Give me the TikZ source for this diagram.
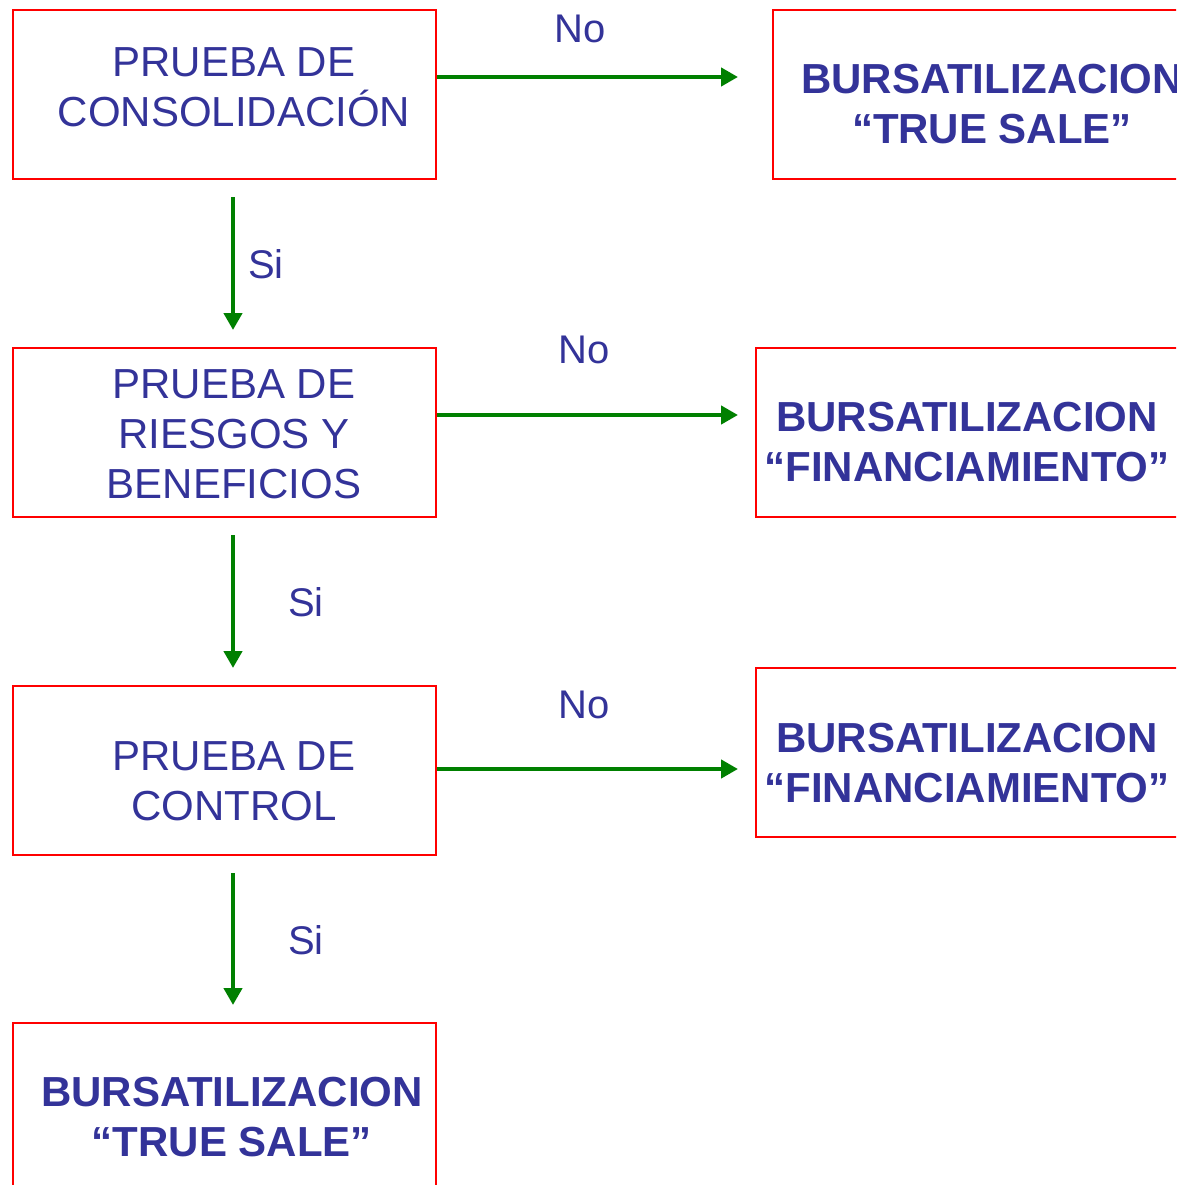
\documentclass[tikz,border=0pt]{standalone}
\usepackage{fontspec}
\setmainfont{Liberation Sans}
\usetikzlibrary{arrows.meta}
\definecolor{txtblue}{HTML}{333399}
\definecolor{boxred}{HTML}{FF0000}
\definecolor{arrgreen}{HTML}{008000}
\tikzset{
  box/.style={draw=boxred, line width=2pt, minimum width=#1, minimum height=169pt, inner sep=0pt, anchor=north west},
  box/.default=423pt,
  txt/.style={text=txtblue, align=center, inner sep=0pt, font=\fontsize{42}{50}\selectfont},
  btxt/.style={txt, font=\fontsize{42}{50}\selectfont\bfseries},
  lbl/.style={text=txtblue, inner sep=0pt, font=\fontsize{40}{48}\selectfont},
  arr/.style={draw=arrgreen, line width=4.5pt, -{Triangle[length=17pt,width=18pt]}}
}
\begin{document}
\begin{tikzpicture}[x=1pt,y=-1pt]
\clip (0,0) rectangle (1176,1185);
\fill[white] (0,0) rectangle (1176,1185);
% left column boxes
\node[box] (b1) at (12,9) {};
\node[box] (b2) at (12,347) {};
\node[box] (b3) at (12,685) {};
\node[box] (b4) at (12,1022) {};
% right column boxes
\node[box=440pt] (r1) at (772,9) {};
\node[box=440pt] (r2) at (755,347) {};
\node[box=440pt] (r3) at (755,667) {};
% texts
\node[txt] (t1) at (234,87) {PRUEBA DE\\CONSOLIDACIÓN};
\node[txt] (t2) at (234,434) {PRUEBA DE\\RIESGOS Y\\BENEFICIOS};
\node[txt] (t3) at (234,781) {PRUEBA DE\\CONTROL};
\node[btxt] (t4) at (232,1117.5) {BURSATILIZACION\\“TRUE SALE”};
\node[btxt] (tr1) at (992,104.5) {BURSATILIZACION\\“TRUE SALE”};
\node[btxt] (tr2) at (967,442) {BURSATILIZACION\\“FINANCIAMIENTO”};
\node[btxt] (tr3) at (967,763) {BURSATILIZACION\\“FINANCIAMIENTO”};
% horizontal arrows
\draw[arr] ([yshift=17.5pt]b1.east) -- ([xshift=-34pt,yshift=17.5pt]r1.west);
\draw[arr] ([yshift=17.5pt]b2.east) -- ([xshift=-17pt,yshift=17.5pt]r2.west);
\draw[arr] ([yshift=1.5pt]b3.east) -- ([xshift=-17pt,yshift=-16.5pt]r3.west);
% vertical arrows
\draw[arr] ([xshift=8.5pt,yshift=-17pt]b1.south) -- ([xshift=8.5pt,yshift=17pt]b2.north);
\draw[arr] ([xshift=8.5pt,yshift=-17pt]b2.south) -- ([xshift=8.5pt,yshift=17pt]b3.north);
\draw[arr] ([xshift=8.5pt,yshift=-17pt]b3.south) -- ([xshift=8.5pt,yshift=17pt]b4.north);
% labels
\node[lbl] (n1) at (580,29) {No};
\node[lbl] (n2) at (584,350) {No};
\node[lbl] (n3) at (584,705) {No};
\node[lbl] (s1) at (266,264) {Si};
\node[lbl] (s2) at (306,602) {Si};
\node[lbl] (s3) at (306,940) {Si};
\end{tikzpicture}
\end{document}
